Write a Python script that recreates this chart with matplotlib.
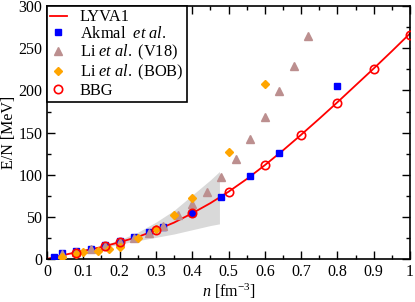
import matplotlib
matplotlib.use("Agg")
import matplotlib.pyplot as plt
from matplotlib.ticker import MultipleLocator

plt.rcParams['font.family'] = ['Liberation Serif', 'DejaVu Serif']
plt.rcParams['mathtext.fontset'] = 'custom'
plt.rcParams['mathtext.rm'] = 'Liberation Serif'
plt.rcParams['mathtext.it'] = 'Liberation Serif:italic'

# LYVA1 curve
lyva_n = [0.0, 0.05, 0.10, 0.15, 0.20, 0.25, 0.30, 0.35, 0.40, 0.45, 0.50,
          0.55, 0.60, 0.65, 0.70, 0.75, 0.80, 0.85, 0.90, 0.95, 1.00]
lyva_e = [0.5, 5.5, 10.0, 14.5, 20.3, 26.5, 34.5, 43.5, 54.5, 66.5, 80.0,
          95.0, 111.5, 129.0, 147.5, 166.5, 186.0, 206.0, 226.0, 246.5, 267.5]

# Akmal et al.
akmal_n = [0.02, 0.04, 0.08, 0.12, 0.16, 0.20, 0.24, 0.28, 0.32, 0.40, 0.48, 0.56, 0.64, 0.80]
akmal_e = [2.4, 7.0, 10.0, 12.5, 17.0, 21.7, 26.0, 32.7, 38.6, 55.0, 74.0, 99.0, 126.0, 205.0]

# Li et al. (V18)
v18_n = [0.04, 0.08, 0.12, 0.16, 0.20, 0.24, 0.28, 0.32, 0.36, 0.40, 0.44, 0.48,
         0.52, 0.56, 0.60, 0.64, 0.68, 0.72]
v18_e = [6.3, 9.0, 12.5, 15.7, 20.8, 25.0, 31.5, 39.4, 52.4, 65.4, 80.0, 97.8,
         118.7, 143.0, 169.0, 199.0, 229.0, 265.0]

# Li et al. (BOB)
bob_n = [0.04, 0.08, 0.10, 0.14, 0.17, 0.20, 0.25, 0.30, 0.35, 0.40, 0.50, 0.60]
bob_e = [3.0, 6.0, 8.5, 9.8, 12.0, 15.0, 25.0, 35.5, 53.0, 72.5, 127.0, 208.0]

# BBG
bbg_n = [0.08, 0.16, 0.20, 0.30, 0.40, 0.50, 0.60, 0.70, 0.80, 0.90, 1.00]
bbg_e = [7.8, 15.7, 20.5, 34.7, 54.4, 80.0, 111.6, 147.0, 185.0, 225.0, 266.0]

# grey uncertainty band
band_n = [0.10, 0.15, 0.20, 0.25, 0.30, 0.35, 0.40, 0.45, 0.475]
band_lo = [8.5, 13.0, 18.0, 22.0, 26.0, 30.0, 35.0, 40.0, 42.0]
band_hi = [10.5, 16.0, 23.0, 32.0, 44.0, 58.0, 76.0, 94.0, 104.0]

fig = plt.figure(figsize=(4.15, 3.02), dpi=100)
ax = fig.add_axes([0.1133, 0.1414, 0.8747, 0.8387])

ax.fill_between(band_n, band_lo, band_hi, color='#d9d9d9', lw=0, zorder=1)
ax.plot(lyva_n, lyva_e, color='red', lw=1.3, label='LYVA1', zorder=2)
ax.plot(akmal_n, akmal_e, 's', color='blue', ms=5, label=r'Akmal  $\it{et\ al.}$', zorder=3)
ax.plot(v18_n, v18_e, '^', color='#bc8f8f', ms=5.5, label=r'Li $\it{et\ al.}$ (V18)', zorder=4)
ax.plot(bob_n, bob_e, 'D', color='#ffa500', ms=4.2, label=r'Li $\it{et\ al.}$ (BOB)', zorder=5)
ax.plot(bbg_n, bbg_e, 'o', mfc='none', mec='red', mew=1.2, ms=6, label='BBG', zorder=6)

ax.set_xlim(0, 1)
ax.set_ylim(0, 300)
ax.xaxis.set_major_locator(MultipleLocator(0.1))
ax.xaxis.set_minor_locator(MultipleLocator(0.05))
ax.yaxis.set_major_locator(MultipleLocator(50))
ax.yaxis.set_minor_locator(MultipleLocator(25))
ax.set_xticks([0, 0.1, 0.2, 0.3, 0.4, 0.5, 0.6, 0.7, 0.8, 0.9, 1.0])
ax.set_xticklabels(['0', '0.1', '0.2', '0.3', '0.4', '0.5', '0.6', '0.7', '0.8', '0.9', '1'])
ax.tick_params(which='both', direction='in', top=True, right=True, labelsize=11.5, width=1)
ax.tick_params(which='major', length=6)
ax.tick_params(which='minor', length=3)
for s in ax.spines.values():
    s.set_linewidth(1.2)

ax.set_xlabel(r'$n$ [fm$^{-3}$]', fontsize=11.5, labelpad=1)
ax.set_ylabel('E/N [MeV]', fontsize=11.5, labelpad=1)

leg = ax.legend(loc='upper left', borderaxespad=0, fontsize=11.8, fancybox=False,
                framealpha=1, edgecolor='black', handlelength=1.0, handletextpad=0.8,
                labelspacing=0.05, borderpad=0.2)
leg.get_frame().set_linewidth(1.2)

fig.savefig('out.png', dpi=100)
